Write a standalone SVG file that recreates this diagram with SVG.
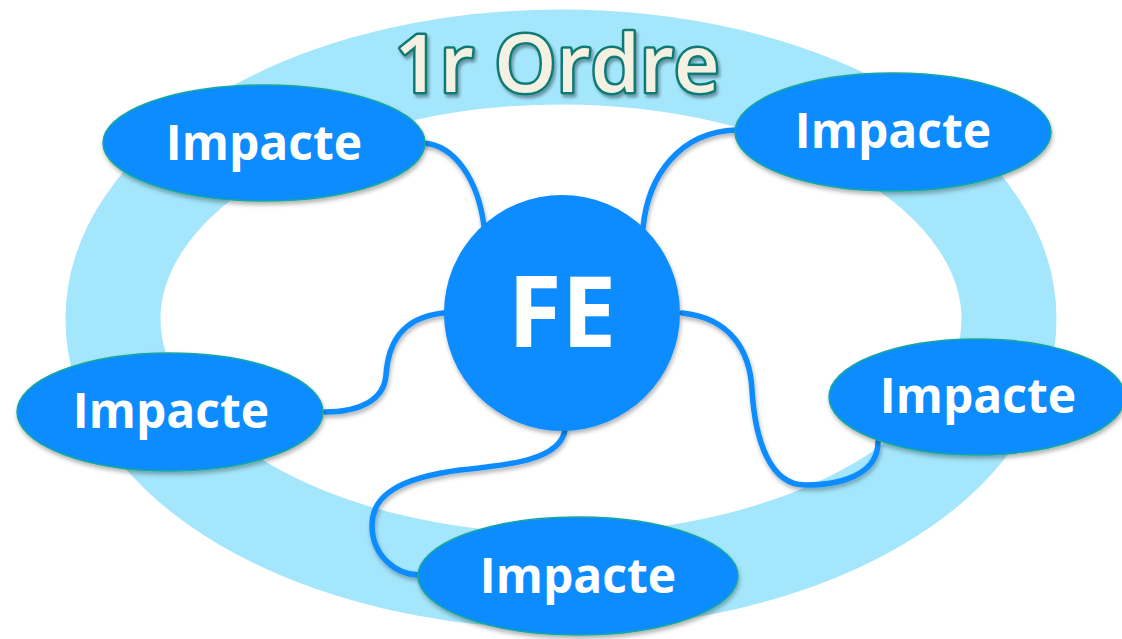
<svg xmlns="http://www.w3.org/2000/svg" width="1122" height="639" viewBox="0 0 1122 639">
<defs>
<filter id="sh" x="-10%" y="-10%" width="120%" height="130%">
<feDropShadow dx="1" dy="3" stdDeviation="2" flood-color="#000" flood-opacity="0.3"/>
</filter>
<filter id="tsh" x="-10%" y="-20%" width="120%" height="140%">
<feDropShadow dx="2" dy="3" stdDeviation="1.5" flood-color="#000" flood-opacity="0.35"/>
</filter>
</defs>
<style>
.node{fill:#0a8cff;stroke:#17a89c;stroke-width:1.5;filter:url(#sh)}
.lbl{font-family:"Open Sans","DejaVu Sans",sans-serif;font-weight:700;fill:#fff;text-anchor:middle}
.con{fill:none;stroke:#0a8cff;stroke-width:5.5;stroke-linecap:round;filter:url(#sh)}
</style>
<rect width="1122" height="639" fill="#fff"/>
<g id="ring">
<ellipse cx="561" cy="319" rx="448" ry="262" fill="none" stroke="#a4e6fc" stroke-width="95"/>
</g>
<text id="title" x="557" y="92" font-family="'Open Sans','DejaVu Sans',sans-serif" font-weight="600" font-size="79" text-anchor="middle" fill="#f4f0e2" stroke="#0f7a73" stroke-width="5" stroke-linejoin="round" paint-order="stroke" filter="url(#tsh)">1r Ordre</text>
<g id="connectors">
<path class="con" d="M423,143 C455,145 478,180 484,226"/>
<path class="con" d="M736,130 C680,132 648,175 643,228"/>
<path class="con" d="M443,313 C400,318 388,345 386,375 C384,400 360,412 325,412"/>
<path class="con" d="M682,313 C730,318 750,350 752,390 C755,440 770,485 805,485 C850,485 878,470 878,442"/>
<path class="con" d="M565,430 C560,460 510,465 460,470 C400,478 372,495 372,525 C372,555 395,575 420,575"/>
</g>
<g id="fe">
<circle cx="562" cy="313" r="118" fill="#0a8cff" filter="url(#sh)"/>
<text class="lbl" x="562" y="347" font-size="98">FE</text>
</g>
<g id="impacte-tl">
<ellipse class="node" cx="264" cy="143" rx="161" ry="58"/>
<text class="lbl" x="264" y="160" font-size="48">Impacte</text>
</g>
<g id="impacte-tr">
<ellipse class="node" cx="893" cy="132" rx="158" ry="59"/>
<text class="lbl" x="893" y="148" font-size="48">Impacte</text>
</g>
<g id="impacte-l">
<ellipse class="node" cx="170" cy="412" rx="153" ry="59"/>
<text class="lbl" x="171" y="428" font-size="48">Impacte</text>
</g>
<g id="impacte-r">
<ellipse class="node" cx="977" cy="397" rx="148" ry="58"/>
<text class="lbl" x="978" y="413" font-size="48">Impacte</text>
</g>
<g id="impacte-b">
<ellipse class="node" cx="578" cy="576" rx="160" ry="59"/>
<text class="lbl" x="578" y="593" font-size="48">Impacte</text>
</g>
</svg>
